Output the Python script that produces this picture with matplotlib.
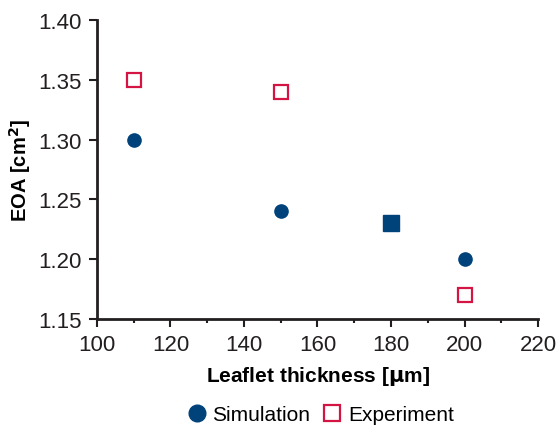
import matplotlib.pyplot as plt
from matplotlib.lines import Line2D
from matplotlib.ticker import MultipleLocator

plt.rcParams['font.family'] = ['Liberation Sans', 'DejaVu Sans']

# data
sim_x = [110, 150, 200]
sim_y = [1.30, 1.24, 1.20]
sim_sq_x = [180]
sim_sq_y = [1.23]
exp_x = [110, 150, 200]
exp_y = [1.35, 1.34, 1.17]

blue = '#00427a'
red = '#d41443'

fig = plt.figure(figsize=(5.57, 4.31), dpi=100)
ax = fig.add_axes([0.174, 0.2575, 0.792, 0.6935])

ax.plot(sim_x, sim_y, 'o', color=blue, markersize=9.5, linestyle='none', clip_on=False)
ax.plot(sim_sq_x, sim_sq_y, 's', color=blue, markersize=11.5, linestyle='none', clip_on=False)
ax.plot(exp_x, exp_y, 's', markerfacecolor='white', markeredgecolor=red,
        markeredgewidth=1.6, markersize=10.5, linestyle='none', clip_on=False)

ax.set_xlim(100, 220)
ax.set_ylim(1.15, 1.40)
ax.xaxis.set_major_locator(MultipleLocator(20))
ax.xaxis.set_minor_locator(MultipleLocator(10))
ax.yaxis.set_major_locator(MultipleLocator(0.05))
ax.yaxis.set_major_formatter(plt.FormatStrFormatter('%.2f'))

for s in ['top', 'right']:
    ax.spines[s].set_visible(False)
for s in ['left', 'bottom']:
    ax.spines[s].set_linewidth(2)
    ax.spines[s].set_color('#231f20')

ax.tick_params(axis='both', which='major', direction='out', length=6, width=1.5,
               labelsize=16, colors='#231f20', pad=5)
ax.tick_params(axis='x', which='minor', direction='out', length=3, width=1.5, colors='#231f20')

ax.set_xlabel('Leaflet thickness [$\\mathbf{\\mu}$m]', fontsize=15, fontweight='bold', labelpad=6)
ax.set_ylabel('EOA [cm$^\\mathbf{2}$]', fontsize=14.5, fontweight='bold')
ax.yaxis.set_label_coords(-0.145, 0.5)

handles = [
    Line2D([], [], marker='o', color=blue, linestyle='none', markersize=12),
    Line2D([], [], marker='s', markerfacecolor='white', markeredgecolor=red,
           markeredgewidth=1.6, linestyle='none', markersize=11),
]
fig.legend(handles, ['Simulation', 'Experiment'], loc='center', bbox_to_anchor=(0.57, 0.035),
           ncol=2, frameon=False, fontsize=15, handletextpad=0.0, columnspacing=0.3,
           handlelength=1.5)

fig.savefig('out.png', dpi=100)
